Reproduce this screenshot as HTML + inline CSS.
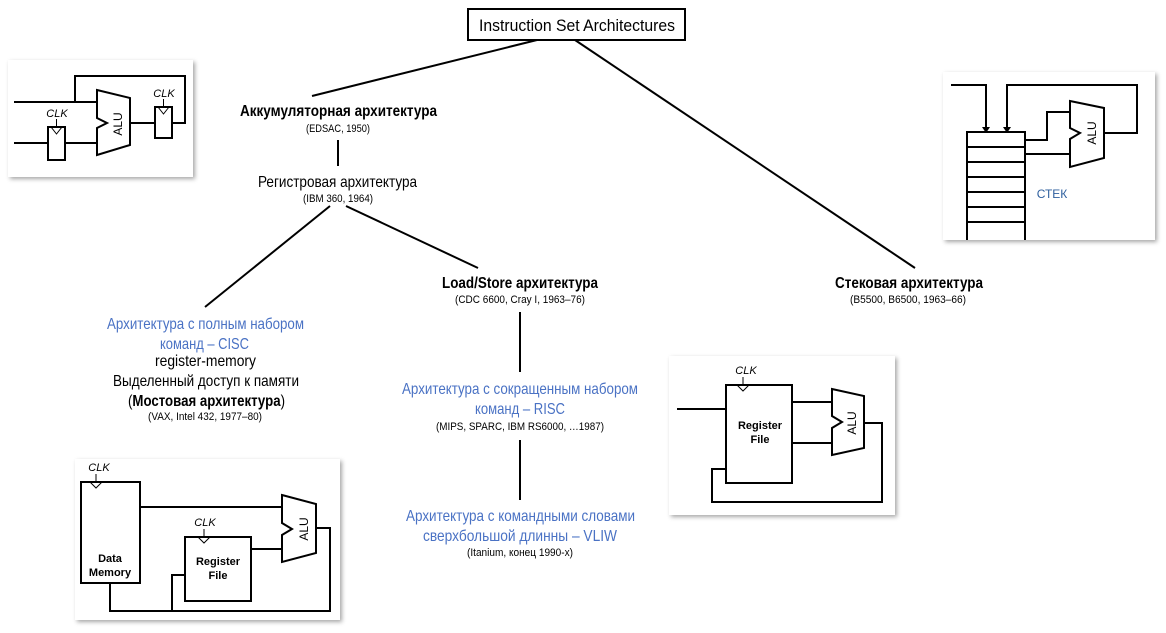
<!DOCTYPE html>
<html><head><meta charset="utf-8"><style>
body{margin:0;background:#fff;width:1166px;height:628px;overflow:hidden}
svg text{font-family:"Liberation Sans",sans-serif}
</style></head><body>
<svg width="1166" height="628" viewBox="0 0 1166 628" xmlns="http://www.w3.org/2000/svg">
<defs>
<filter id="sh" x="-10%" y="-10%" width="125%" height="125%"><feDropShadow dx="2" dy="2" stdDeviation="2" flood-color="#000" flood-opacity="0.35"/></filter>
</defs>
<g stroke="#000" stroke-width="2" fill="none">
<line x1="537" y1="40" x2="312" y2="96"/>
<line x1="575" y1="40" x2="915" y2="268"/>
<line x1="338" y1="140" x2="338" y2="166"/>
<line x1="330" y1="206" x2="205" y2="307"/>
<line x1="346" y1="206" x2="478" y2="268"/>
<line x1="520" y1="312" x2="520" y2="372"/>
<line x1="520" y1="440" x2="520" y2="500"/>
</g>
<rect x="468" y="9" width="217" height="31" fill="#fff" stroke="#000" stroke-width="2"/>
<text x="479" y="31" font-size="17" textLength="196" lengthAdjust="spacingAndGlyphs">Instruction Set Architectures</text>

<g>
<text x="240" y="116" font-size="16" font-weight="bold" textLength="197" lengthAdjust="spacingAndGlyphs">Аккумуляторная архитектура</text>
<text x="306" y="132" font-size="11" textLength="64" lengthAdjust="spacingAndGlyphs">(EDSAC, 1950)</text>
<text x="258" y="187" font-size="16" textLength="159" lengthAdjust="spacingAndGlyphs">Регистровая архитектура</text>
<text x="303" y="202" font-size="11" textLength="70" lengthAdjust="spacingAndGlyphs">(IBM 360, 1964)</text>
<text x="442" y="288" font-size="16" font-weight="bold" textLength="156" lengthAdjust="spacingAndGlyphs">Load/Store архитектура</text>
<text x="455" y="303" font-size="11" textLength="130" lengthAdjust="spacingAndGlyphs">(CDC 6600, Cray I, 1963–76)</text>
<text x="835" y="288" font-size="16" font-weight="bold" textLength="148" lengthAdjust="spacingAndGlyphs">Стековая архитектура</text>
<text x="850" y="303" font-size="11" textLength="116" lengthAdjust="spacingAndGlyphs">(B5500, B6500, 1963–66)</text>
<text x="107" y="329" font-size="16" fill="#4a72c4" textLength="197" lengthAdjust="spacingAndGlyphs">Архитектура с полным набором</text>
<text x="160" y="349" font-size="16" fill="#4a72c4" textLength="89" lengthAdjust="spacingAndGlyphs">команд – CISC</text>
<text x="155" y="366" font-size="16" textLength="101" lengthAdjust="spacingAndGlyphs">register-memory</text>
<text x="113" y="386" font-size="16" textLength="186" lengthAdjust="spacingAndGlyphs">Выделенный доступ к памяти</text>
<text x="128" y="406" font-size="16" textLength="157" lengthAdjust="spacingAndGlyphs">(<tspan font-weight="bold">Мостовая архитектура</tspan>)</text>
<text x="148" y="420" font-size="11" textLength="114" lengthAdjust="spacingAndGlyphs">(VAX, Intel 432, 1977–80)</text>
<text x="402" y="394" font-size="16" fill="#4a72c4" textLength="236" lengthAdjust="spacingAndGlyphs">Архитектура с сокращенным набором</text>
<text x="475" y="414" font-size="16" fill="#4a72c4" textLength="90" lengthAdjust="spacingAndGlyphs">команд – RISC</text>
<text x="436" y="430" font-size="11" textLength="168" lengthAdjust="spacingAndGlyphs">(MIPS, SPARC, IBM RS6000, …1987)</text>
<text x="406" y="521" font-size="16" fill="#4a72c4" textLength="229" lengthAdjust="spacingAndGlyphs">Архитектура с командными словами</text>
<text x="423" y="541" font-size="16" fill="#4a72c4" textLength="194" lengthAdjust="spacingAndGlyphs">сверхбольшой длинны – VLIW</text>
<text x="467" y="556" font-size="11" textLength="106" lengthAdjust="spacingAndGlyphs">(Itanium, конец 1990-х)</text>
</g>

<rect x="8" y="60" width="185" height="117" fill="#fff" filter="url(#sh)"/>
<rect x="943" y="72" width="212" height="168" fill="#fff" filter="url(#sh)"/>
<rect x="669" y="356" width="226" height="159" fill="#fff" filter="url(#sh)"/>
<rect x="75" y="459" width="265" height="161" fill="#fff" filter="url(#sh)"/>

<g stroke="#000" stroke-width="2" fill="#fff">
<polyline points="14,102 97,102" fill="none"/>
<polyline points="75,102 75,76 185,76 185,123 172,123" fill="none"/>
<polyline points="14,143 48,143" fill="none"/>
<polyline points="65,143 97,143" fill="none"/>
<polyline points="130,123 155,123" fill="none"/>
<polygon points="97,90 130,98 130,145 97,155 97,128 107,123 97,118"/>
<rect x="48" y="127" width="17" height="33"/>
<rect x="155" y="107" width="17" height="31"/>
<polyline points="51,127 56.5,134 62,127" fill="none" stroke-width="1"/>
<polyline points="158,107 163.5,114 169,107" fill="none" stroke-width="1"/>
<line x1="56.5" y1="119" x2="56.5" y2="127" stroke-width="1"/>
<line x1="163.5" y1="99" x2="163.5" y2="107" stroke-width="1"/>

<polyline points="951,85 986,85 986,128" fill="none"/>
<polyline points="1104,133 1137,133 1137,85 1007,85 1007,128" fill="none"/>
<polyline points="967,240 967,132 1025,132 1025,240" fill="none"/>
<g fill="none"><line x1="967" y1="147" x2="1025" y2="147"/><line x1="967" y1="162" x2="1025" y2="162"/><line x1="967" y1="177" x2="1025" y2="177"/><line x1="967" y1="192" x2="1025" y2="192"/><line x1="967" y1="207" x2="1025" y2="207"/><line x1="967" y1="222" x2="1025" y2="222"/></g>
<polyline points="1025,140 1047,140 1047,112 1070,112" fill="none"/>
<polyline points="1025,154 1070,154" fill="none"/>
<polygon points="1070,101 1104,108 1104,158 1070,167 1070,139 1080,133 1070,128"/>
<line x1="677" y1="409" x2="726" y2="409"/>
<rect x="726" y="385" width="66" height="98"/>
<line x1="792" y1="402" x2="832" y2="402"/>
<line x1="792" y1="443" x2="832" y2="443"/>
<polygon points="832,389 864,396 864,448 832,455 832,428 842,422 832,416"/>
<polyline points="864,423 882,423 882,502 712,502 712,469 726,469" fill="none"/>
<polyline points="737,385 743,391 749,385" fill="none" stroke-width="1"/>
<line x1="743" y1="377" x2="743" y2="385" stroke-width="1"/>
<rect x="81" y="482" width="59" height="101"/>
<line x1="140" y1="507" x2="282" y2="507"/>
<rect x="185" y="537" width="66" height="64"/>
<line x1="251" y1="549" x2="282" y2="549"/>
<polygon points="282,495 316,504 316,553 282,562 282,535 292,529 282,523"/>
<polyline points="316,528 330,528 330,611 110,611 110,583" fill="none"/>
<polyline points="172,611 172,575 185,575" fill="none"/>
<polyline points="90,482 96,488 102,482" fill="none" stroke-width="1"/>
<line x1="96" y1="474" x2="96" y2="482" stroke-width="1"/>
<polyline points="198,537 204,543 210,537" fill="none" stroke-width="1"/>
<line x1="204" y1="529" x2="204" y2="537" stroke-width="1"/>
</g>
<g fill="#000" stroke="none">
<polygon points="982,127 990,127 986,133"/>
<polygon points="1003,127 1011,127 1007,133"/>
</g>
<g font-size="11" font-style="italic" text-anchor="middle">
<text x="57" y="117">CLK</text><text x="164" y="97">CLK</text>
<text x="746" y="374">CLK</text><text x="99" y="471">CLK</text><text x="205" y="526">CLK</text>
</g>
<g font-size="12" text-anchor="middle">
<text transform="translate(122,124) rotate(-90)">ALU</text>
<text transform="translate(1096,133) rotate(-90)">ALU</text>
<text transform="translate(856,423) rotate(-90)">ALU</text>
<text transform="translate(308,529) rotate(-90)">ALU</text>
</g>
<g font-size="11" font-weight="bold" text-anchor="middle">
<text x="760" y="429">Register</text><text x="760" y="443">File</text>
<text x="110" y="562">Data</text><text x="110" y="576">Memory</text>
<text x="218" y="565">Register</text><text x="218" y="579">File</text>
</g>
<text x="1052" y="198" font-size="12" fill="#2e5f9e" text-anchor="middle">СТЕК</text>
</svg>
</body></html>
